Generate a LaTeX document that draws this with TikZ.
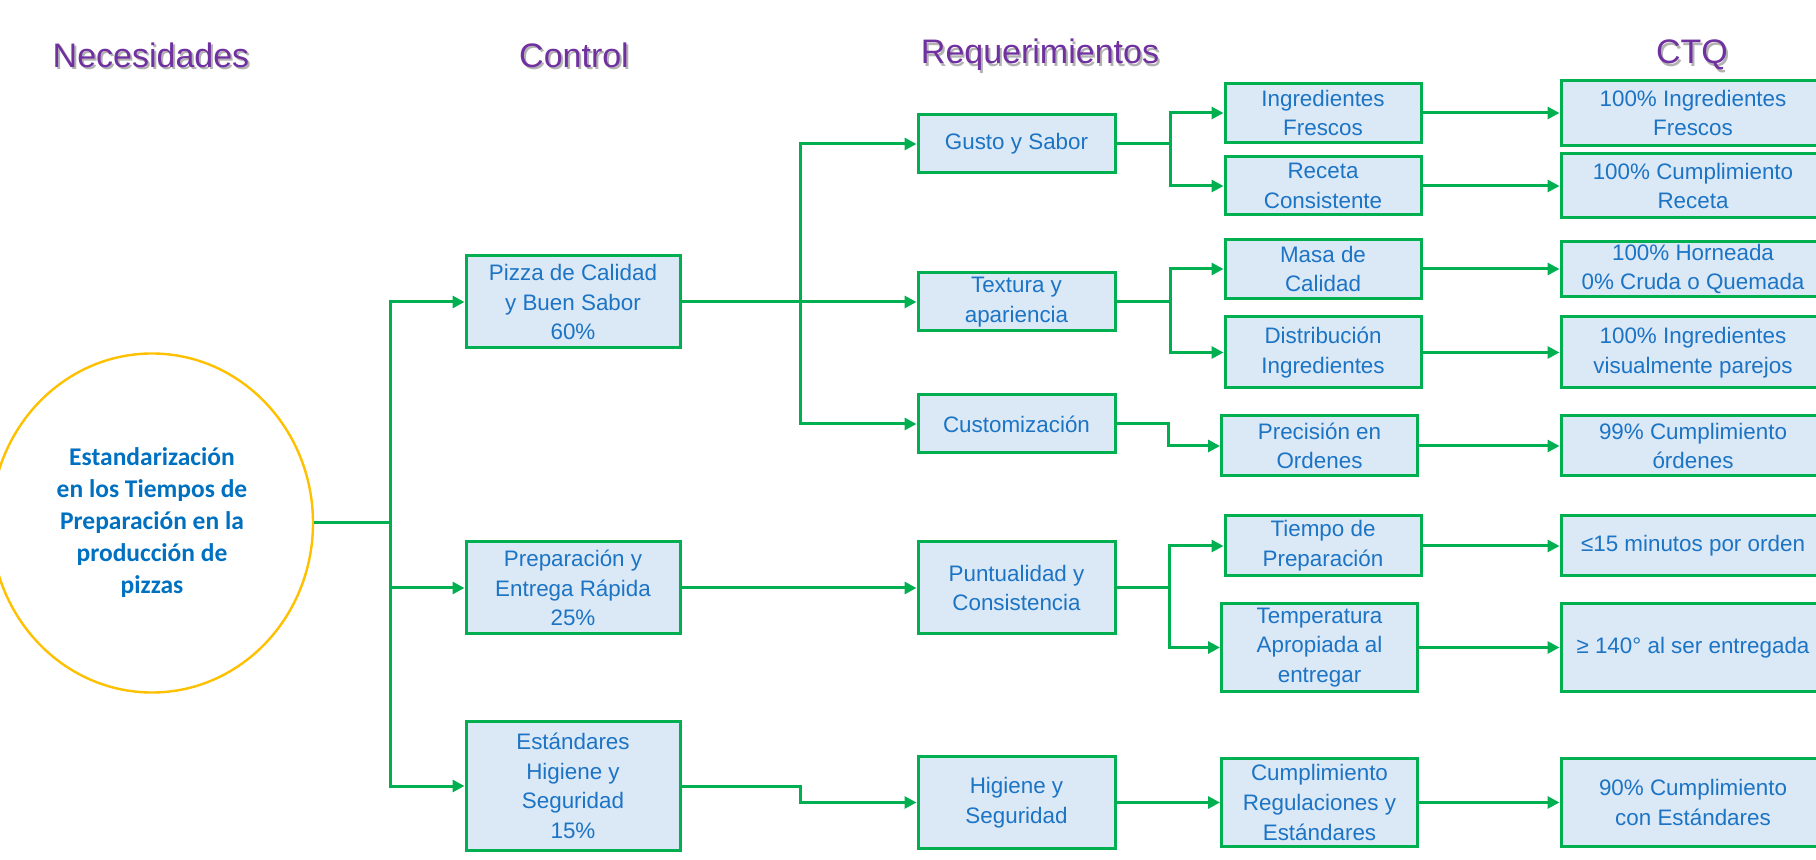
\documentclass[tikz,border=0pt]{standalone}
\usepackage{fontspec}
\setmainfont{Liberation Sans}
\newfontfamily\circfont{Carlito}
\usetikzlibrary{arrows.meta,shapes.geometric}
\definecolor{linegreen}{HTML}{00B050}
\definecolor{boxfill}{HTML}{DBE8F6}
\definecolor{boxtext}{HTML}{1C74C4}
\definecolor{headpurple}{HTML}{7030A0}
\definecolor{ringgold}{HTML}{FFC000}
\definecolor{goaltext}{HTML}{0070C0}
\begin{document}
\begin{tikzpicture}[x=0.5pt,y=-0.5pt,
  stepbox/.style={draw=linegreen, line width=1.5pt, fill=boxfill, text=boxtext,
    align=center, inner sep=0.5pt, font=\fontsize{11.2pt}{14.8pt}\selectfont},
  colA/.style={stepbox, minimum width=107pt},
  colB/.style={stepbox, minimum width=98.5pt},
  colC/.style={stepbox, minimum width=98pt},
  colD/.style={stepbox, minimum width=132pt},
  link/.style={draw=linegreen, line width=1.5pt},
  arr/.style={link, -{Triangle[length=6pt,width=6pt]}},
  head/.style={font=\fontsize{17pt}{20pt}\selectfont, text=headpurple},
  headshadow/.style={font=\fontsize{17pt}{20pt}\selectfont, text=black!30},
  ]
\clip (0,0) rectangle (1816,860);

% column titles with a soft drop shadow
\node[headshadow] (hNeedS) at (153,57.5) {Necesidades};
\node[head] (hNeed) at (151,55) {Necesidades};
\node[headshadow] (hCtrlS) at (576,57.5) {Control};
\node[head] (hCtrl) at (574,55) {Control};
\node[headshadow] (hReqS) at (1042,57.5) {Requerimientos};
\node[head] (hReq) at (1040,55) {Requerimientos};
\node[headshadow] (hCtqS) at (1694,57.5) {CTQ};
\node[head] (hCtq) at (1692,55) {CTQ};

% main goal
\node[draw=ringgold, line width=1.2pt, ellipse, minimum width=161pt, minimum height=169.5pt,
  inner sep=0pt, text=goaltext, align=center,
  font=\circfont\bfseries\fontsize{12.75pt}{16pt}\selectfont] (goal) at (152,523)
  {Estandarización\\en los Tiempos de\\Preparación en la\\producción de\\pizzas};

% control
\node[colA, minimum height=46pt] (pizza) at (573,302) {Pizza de Calidad\\y Buen Sabor\\60\%};
\node[colA, minimum height=46pt] (prep) at (573,588) {Preparación y\\Entrega Rápida\\25\%};
\node[colA, minimum height=64pt] (estd) at (573,786) {Estándares\\Higiene y\\Seguridad\\15\%};

% requirements
\node[colB, minimum height=29pt] (gusto) at (1016.5,144) {Gusto y Sabor};
\node[colB, minimum height=29pt] (textura) at (1016.5,302) {Textura y\\apariencia};
\node[colB, minimum height=29pt] (cust) at (1016.5,424) {Customización};
\node[colB, minimum height=46pt] (punt) at (1016.5,588) {Puntualidad y\\Consistencia};
\node[colB, minimum height=45.5pt] (hig) at (1016.5,802.5) {Higiene y\\Seguridad};

% detailed requirements
\node[colC, minimum height=29.5pt] (ingr) at (1323,113) {Ingredientes\\Frescos};
\node[colC, minimum height=29pt] (rec) at (1323,186) {Receta\\Consistente};
\node[colC, minimum height=29.5pt] (masa) at (1323,269) {Masa de\\Calidad};
\node[colC, minimum height=35.5pt] (dist) at (1323,352.5) {Distribución\\Ingredientes};
\node[colC, minimum height=30pt] (prec) at (1319.5,446) {Precisión en\\Ordenes};
\node[colC, minimum height=30pt] (tiempo) at (1323,546) {Tiempo de\\Preparación};
\node[colC, minimum height=44pt] (temp) at (1319.5,647.5) {Temperatura\\Apropiada al\\entregar};
\node[colC, minimum height=43.5pt] (cumpl) at (1319.5,802.5) {Cumplimiento\\Regulaciones y\\Estándares};

% CTQ targets
\node[colD, minimum height=32.5pt] (c1) at (1693,113) {100\% Ingredientes\\Frescos};
\node[colD, minimum height=32pt] (c2) at (1693,186) {100\% Cumplimiento\\Receta};
\node[colD, minimum height=27.5pt] (c3) at (1693,269) {100\% Horneada\\0\% Cruda o Quemada};
\node[colD, minimum height=35.5pt] (c4) at (1693,352.5) {100\% Ingredientes\\visualmente parejos};
\node[colD, minimum height=30pt] (c5) at (1693,446) {99\% Cumplimiento\\órdenes};
\node[colD, minimum height=30pt] (c6) at (1693,546) {≤15 minutos por orden};
\node[colD, minimum height=44pt] (c7) at (1693,647.5) {≥ 140° al ser entregada};
\node[colD, minimum height=43.5pt] (c8) at (1693,802.5) {90\% Cumplimiento\\con Estándares};

% junctions
\coordinate (t0) at (390,523);
\coordinate (t1) at (800,302);
\coordinate (t2) at (800,786);
\coordinate (t3) at (1170,144);
\coordinate (t4) at (1170,302);
\coordinate (t5) at (1168,424);
\coordinate (t6) at (1169,588);

% goal -> control
\draw[link] (goal.east) -- (t0);
\draw[arr] (t0) |- (pizza.west);
\draw[arr] (t0) |- (prep.west);
\draw[arr] (t0) |- (estd.west);

% control -> requirements
\draw[link] (pizza.east) -- (t1);
\draw[arr] (t1) |- (gusto.west);
\draw[arr] (t1) -- (textura.west);
\draw[arr] (t1) |- (cust.west);
\draw[arr] (prep.east) -- (punt.west);
\draw[arr] (estd.east) -- (t2) |- (hig.west);

% requirements -> details
\draw[link] (gusto.east) -- (t3);
\draw[arr] (t3) |- (ingr.west);
\draw[arr] (t3) |- (rec.west);
\draw[link] (textura.east) -- (t4);
\draw[arr] (t4) |- (masa.west);
\draw[arr] (t4) |- (dist.west);
\draw[arr] (cust.east) -- (t5) |- (prec.west);
\draw[link] (punt.east) -- (t6);
\draw[arr] (t6) |- (tiempo.west);
\draw[arr] (t6) |- (temp.west);
\draw[arr] (hig.east) -- (cumpl.west);

% details -> CTQ
\draw[arr] (ingr.east) -- (c1.west);
\draw[arr] (rec.east) -- (c2.west);
\draw[arr] (masa.east) -- (c3.west);
\draw[arr] (dist.east) -- (c4.west);
\draw[arr] (prec.east) -- (c5.west);
\draw[arr] (tiempo.east) -- (c6.west);
\draw[arr] (temp.east) -- (c7.west);
\draw[arr] (cumpl.east) -- (c8.west);
\end{tikzpicture}
\end{document}
